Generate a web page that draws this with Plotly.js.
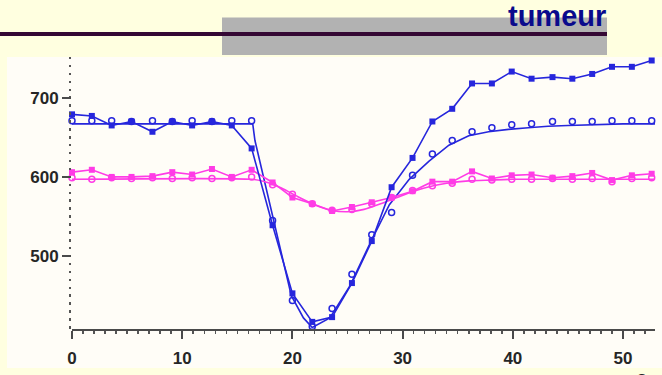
<!DOCTYPE html>
<html>
<head>
<meta charset="utf-8">
<script src="https://cdn.plot.ly/plotly-3.0.1.min.js"></script>
<style>
html,body{margin:0;padding:0;background:#FFFFE0;overflow:hidden;}
#chart{width:662px;height:375px;}
</style>
</head>
<body>
<div id="chart"></div>
<script>
// sample times (s)
var sampleX = [0, 1.8, 3.6, 5.4, 7.3, 9.1, 10.9, 12.7, 14.5, 16.3, 18.2, 20.0, 21.8, 23.6, 25.4, 27.2, 29.0, 30.9, 32.7, 34.5, 36.3, 38.1, 39.9, 41.7, 43.6, 45.4, 47.2, 49.0, 50.8, 52.6];

// blue, filled squares
var blueFilled = [679, 677, 665, 670, 657, 670, 665, 670, 665, 636, 539, 453, 417, 423, 466, 519, 587, 624, 670, 686, 718, 718, 733, 724, 726, 724, 730, 739, 739, 747];
// blue, open circles
var blueOpen = [671, 671, 671, 670, 671, 670, 671, 670, 671, 671, 545, 444, 411, 434, 477, 527, 555, 602, 629, 646, 657, 662, 666, 667, 670, 670, 670, 671, 671, 671];
// blue fitted curve
var blueFitX = [0, 16.4, 16.6, 18.05, 19.9, 21.0, 21.8, 23.4, 25.2, 27, 28.8, 30.6, 32.4, 34.2, 36, 37.8, 39.6, 41.4, 43.2, 45, 47, 50, 52.9];
var blueFitY = [667, 667, 646, 561, 450, 422, 410, 422, 462, 515, 565, 597, 620, 640, 652, 657, 660, 662, 664, 665, 666, 667, 667];

// pink, filled squares
var pinkFilled = [606, 609, 600, 600, 601, 606, 603, 610, 600, 609, 593, 574, 566, 557, 562, 568, 574, 582, 594, 594, 607, 598, 602, 603, 599, 601, 605, 596, 602, 604];
// pink, open circles
var pinkOpen = [599, 597, 599, 598, 599, 598, 599, 598, 599, 600, 590, 578, 566, 558, 559, 566, 574, 583, 589, 592, 597, 596, 597, 597, 598, 597, 598, 594, 598, 599];
// pink fitted curve
var pinkFitX = [0, 16.3, 17.5, 19, 20.5, 22, 23.5, 25, 26.5, 28, 29.5, 31, 32.5, 34, 36, 38, 40, 52.9];
var pinkFitY = [597, 597, 594, 586, 575, 565, 558, 556, 559, 566, 574, 582, 588, 592, 595, 596, 597, 597];

var xTickVals = [0, 10, 20, 30, 40, 50];
var yTickVals = [500, 600, 700];

var BLUE = '#2626dc';
var PINK = '#ff3ce6';

// plot-area geometry in pixels
var L = 72, R = 655, T = 57, B = 329;
var W = R - L, H = B - T;
function px(x){ return (x - L) / W; }
function py(y){ return (B - y) / H; }

var traces = [
  {x: blueFitX, y: blueFitY, mode: 'lines', line: {color: BLUE, width: 1.6}, hoverinfo: 'skip'},
  {x: pinkFitX, y: pinkFitY, mode: 'lines', line: {color: PINK, width: 1.6, shape: 'spline', smoothing: 0.6}, hoverinfo: 'skip'},
  {x: sampleX, y: pinkOpen, mode: 'markers', cliponaxis: false,
   marker: {symbol: 'circle-open', size: 6, color: PINK, line: {color: PINK, width: 1.5}}},
  {x: sampleX, y: pinkFilled, mode: 'lines+markers', cliponaxis: false,
   line: {color: PINK, width: 1.6}, marker: {symbol: 'square', size: 6, color: PINK}},
  {x: sampleX, y: blueOpen, mode: 'markers', cliponaxis: false,
   marker: {symbol: 'circle-open', size: 6, color: BLUE, line: {color: BLUE, width: 1.5}}},
  {x: sampleX, y: blueFilled, mode: 'lines+markers', cliponaxis: false,
   line: {color: BLUE, width: 1.6}, marker: {symbol: 'square', size: 6, color: BLUE}}
];

var tickFont = {family: 'Liberation Sans, Arial, sans-serif', size: 17, color: '#262626', weight: 'bold'};

var layout = {
  width: 662, height: 375,
  margin: {l: L, r: 662 - R, t: T, b: 375 - B, pad: 0},
  paper_bgcolor: '#FFFFE0',
  plot_bgcolor: 'rgba(0,0,0,0)',
  showlegend: false,
  xaxis: {
    range: [0, 52.9], showgrid: false, zeroline: false,
    showline: true, linecolor: '#4a4a4a', linewidth: 2,
    tickmode: 'array', tickvals: xTickVals, ticktext: xTickVals.map(String),
    ticks: 'outside', ticklen: 8, tickwidth: 2, tickcolor: '#4a4a4a',
    ticklabelstandoff: 5,
    minor: {dtick: 1, tick0: 0, ticks: 'outside', ticklen: 3, tickwidth: 1.5, tickcolor: '#555', showgrid: false},
    tickfont: tickFont, fixedrange: true
  },
  yaxis: {
    range: [408, 751.4], showgrid: false, zeroline: false,
    showline: false,
    tickmode: 'array', tickvals: yTickVals, ticktext: yTickVals.map(String),
    ticks: 'outside', ticklen: 9, tickwidth: 2, tickcolor: '#4a4a4a',
    minor: {dtick: 10, tick0: 0, ticks: 'outside', ticklen: 2.5, tickwidth: 2.5, tickcolor: '#555', showgrid: false},
    tickfont: tickFont, fixedrange: true
  },
  shapes: [
    {type: 'rect', xref: 'paper', yref: 'paper', layer: 'below',
     x0: px(7), x1: px(662), y0: py(368), y1: py(57),
     fillcolor: '#FFFDF7', line: {width: 0}},
    {type: 'rect', xref: 'paper', yref: 'paper', layer: 'above',
     x0: px(222), x1: px(607), y0: py(55), y1: py(17.5),
     fillcolor: '#b2b2b2', line: {width: 0}},
    {type: 'rect', xref: 'paper', yref: 'paper', layer: 'above',
     x0: px(0), x1: px(607), y0: py(36), y1: py(32),
     fillcolor: '#350834', line: {width: 0}}
  ],
  annotations: [
    {text: 'tumeur', xref: 'paper', yref: 'paper', x: px(608), y: py(34),
     xanchor: 'right', yanchor: 'bottom', showarrow: false,
     font: {family: 'Liberation Sans, Arial, sans-serif', size: 29, color: '#0a0a8c', weight: 'bold'}},
    {text: 's', xref: 'paper', yref: 'paper', x: px(641), y: py(366),
     xanchor: 'center', yanchor: 'top', showarrow: false,
     font: {family: 'Liberation Sans, Arial, sans-serif', size: 17, color: '#262626', weight: 'bold'}}
  ]
};

Plotly.newPlot('chart', traces, layout, {staticPlot: true, displayModeBar: false});
</script>
</body>
</html>
